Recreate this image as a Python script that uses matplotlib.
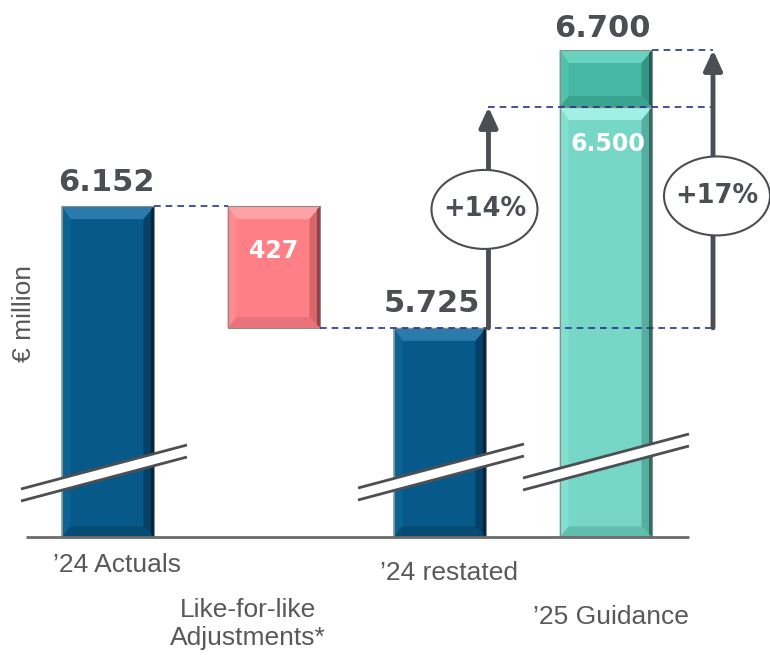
import matplotlib
matplotlib.use("Agg")
import matplotlib.pyplot as plt
from matplotlib.patches import Polygon, Rectangle, Ellipse

# ---------------- data ----------------
categories = ["\u201924 Actuals", "Like-for-like\nAdjustments*", "\u201924 restated", "\u201925 Guidance"]
actuals_2024 = 6.152
lfl_adjustment = 0.427
restated_2024 = 5.725
guidance_low = 6.500
guidance_high = 6.700
value_labels = ["6.152", "427", "5.725", "6.500", "6.700"]
growth_labels = ["+14%", "+17%"]

# ---------------- layout ----------------
W, H = 770, 655
PX_X = 166.0          # pixels per category
PX_Y = 285.0          # pixels per unit (bn)
X0_PX = 108.0
Y_OFF = 1959.5
axis_base = 4.99      # visual start of the broken axis

def dx(px):
    return px / PX_X

def dy(px):
    return px / PX_Y

fig = plt.figure(figsize=(W / 100, H / 100), dpi=100)
ax = fig.add_axes([0, 0, 1, 1])
ax.set_xlim(-X0_PX / PX_X, (W - X0_PX) / PX_X)
ax.set_ylim((Y_OFF - H) / PX_Y, Y_OFF / PX_Y)
ax.axis("off")

bar_w = 0.56

palette = {
    "blue": dict(main="#07598a", top="#2a7aab", left="#0b6394", right="#054066",
                 edge="#02233a", bottom="#064b74"),
    "salmon": dict(main="#ff7f86", top="#ffa2a7", left="#ff8a90", right="#d9656c",
                   edge="#8f4449", bottom="#e8737a"),
    "teal": dict(main="#76d7c7", top="#a2efe3", left="#83dfd0", right="#56ae9f",
                 edge="#2f6d63", bottom="#62bdae"),
    "teal_dark": dict(main="#45b8a3", top="#6ad2bf", left="#50c1ac", right="#339584",
                      edge="#1f5e52", bottom="#3ba491"),
}


def bevel_bar(xc, y0, y1, colors, z=2):
    x0, x1 = xc - bar_w / 2, xc + bar_w / 2
    ax.add_patch(Rectangle((x0, y0), x1 - x0, y1 - y0, facecolor=colors["main"],
                           edgecolor="none", zorder=z))
    bt = min(dy(13), (y1 - y0) / 2.5)
    bb = min(dy(11), (y1 - y0) / 2.5)
    bl, br = dx(9), dx(11)
    polys = [
        ([(x0, y1), (x1, y1), (x1 - br, y1 - bt), (x0 + bl, y1 - bt)], colors["top"]),
        ([(x0, y0), (x1, y0), (x1 - br, y0 + bb), (x0 + bl, y0 + bb)], colors["bottom"]),
        ([(x0, y0), (x0, y1), (x0 + bl, y1 - bt), (x0 + bl, y0 + bb)], colors["left"]),
        ([(x1, y0), (x1, y1), (x1 - br, y1 - bt), (x1 - br, y0 + bb)], colors["right"]),
    ]
    for pts, c in polys:
        ax.add_patch(Polygon(pts, closed=True, facecolor=c, edgecolor="none", zorder=z + 0.1))
    e = dx(3.5)
    ax.add_patch(Polygon([(x1 - e, y0 + dy(3)), (x1 - e, y1 - dy(3)), (x1, y1), (x1, y0)],
                         closed=True, facecolor=colors["edge"], edgecolor="none", zorder=z + 0.15))
    ax.add_patch(Rectangle((x0, y0), x1 - x0, y1 - y0, facecolor="none",
                           edgecolor="#8c8c8c", linewidth=0.8, zorder=z + 0.2))


xs = list(range(len(categories)))

# bars
bevel_bar(xs[0], axis_base, actuals_2024, palette["blue"])
bevel_bar(xs[1], actuals_2024 - lfl_adjustment, actuals_2024, palette["salmon"])
bevel_bar(xs[2], axis_base, restated_2024, palette["blue"])
bevel_bar(xs[3], axis_base, guidance_low, palette["teal"])
bevel_bar(xs[3], guidance_low, guidance_high, palette["teal_dark"])

# baseline
ax.plot([-0.494, 3.5], [axis_base, axis_base], color="#6b6b6b", lw=2, zorder=5,
        solid_capstyle="butt")

# axis break marks
def break_mark(xc, yc):
    half = dx(83)
    rise = dy(22)
    gap = dy(6)
    xl, xr = xc - half, xc + half
    band = [(xl, yc - rise + gap), (xr, yc + rise + gap), (xr, yc + rise - gap), (xl, yc - rise - gap)]
    ax.add_patch(Polygon(band, closed=True, facecolor="white", edgecolor="none", zorder=6))
    for s in (gap, -gap):
        ax.plot([xl, xr], [yc - rise + s, yc + rise + s], color="#4d4f53", lw=2, zorder=7,
                solid_capstyle="butt")

break_mark(xs[0] - dx(4), (Y_OFF - 473) / PX_Y)
break_mark(xs[2] + dx(1), (Y_OFF - 472) / PX_Y)
break_mark(xs[3], (Y_OFF - 462) / PX_Y)

# dashed connector lines
dash_kw = dict(color="#27338c", lw=1.2, linestyle=(0, (4, 3)), zorder=8)
arrow1_x = xs[2] + bar_w / 2 + dx(2)
arrow2_x = xs[3] + dx(107)
ax.plot([xs[0] + bar_w / 2, xs[1] - bar_w / 2], [actuals_2024] * 2, **dash_kw)
ax.plot([xs[1] + bar_w / 2, arrow2_x], [restated_2024] * 2, **dash_kw)
ax.plot([arrow1_x, arrow2_x], [guidance_low] * 2, **dash_kw)
ax.plot([xs[3] + bar_w / 2, arrow2_x], [guidance_high] * 2, **dash_kw)

# arrows
arrow_color = "#4b4e53"
for ax_x, top in ((arrow1_x, guidance_low), (arrow2_x, guidance_high)):
    ax.annotate("", xy=(ax_x, top), xytext=(ax_x, restated_2024),
                arrowprops=dict(arrowstyle="-|>,head_length=1.2,head_width=0.55",
                                mutation_scale=10, lw=3.5, color=arrow_color,
                                shrinkA=0, shrinkB=0),
                zorder=9)

# ellipses with growth labels
ell_specs = [
    (arrow1_x - dx(4), (restated_2024 + guidance_low) / 2 + dy(8), growth_labels[0]),
    (arrow2_x + dx(4), (restated_2024 + guidance_high) / 2 - dy(7), growth_labels[1]),
]
for ex, ey, lab in ell_specs:
    ax.add_patch(Ellipse((ex, ey), dx(106), dy(79), facecolor="white",
                         edgecolor="#4b4e53", lw=1.5, zorder=10))
    ax.text(ex, ey, lab, ha="center", va="center", fontsize=18.5, fontweight="bold",
            color="#4b4e53", family="DejaVu Sans", zorder=11)

# value labels
vcol = "#4b4e53"
vkw = dict(ha="center", va="baseline", fontsize=22, fontweight="bold", color=vcol,
           family="DejaVu Sans", zorder=11)
ax.text(xs[0] - dx(2), actuals_2024 + dy(15), value_labels[0], **vkw)
ax.text(xs[2] - dx(8), restated_2024 + dy(16), value_labels[2], **vkw)
ax.text(xs[3] - dx(4), guidance_high + dy(13), value_labels[4], **vkw)

wkw = dict(ha="center", va="center", fontsize=17, fontweight="bold", color="white",
           family="DejaVu Sans", zorder=11)
ax.text(xs[1], actuals_2024 - lfl_adjustment / 2 + dy(16), value_labels[1], **wkw)
ax.text(xs[3] + dx(2), guidance_low - dy(37), value_labels[3], **wkw)

# category labels
ckw = dict(ha="center", fontsize=19, color="#595959", family="Liberation Sans")
ax.text(xs[0] + dx(9), (Y_OFF - 572) / PX_Y, categories[0], va="baseline", **ckw)
ax.text(xs[1] - dx(26), (Y_OFF - 598) / PX_Y, categories[1], va="top", linespacing=1.2, **ckw)
ax.text(xs[2] + dx(9), (Y_OFF - 580) / PX_Y, categories[2], va="baseline", **ckw)
ax.text(xs[3] + dx(5), (Y_OFF - 624) / PX_Y, categories[3], va="baseline", **ckw)

# y label
ax.text(dx(24) - X0_PX / PX_X, (Y_OFF - 314) / PX_Y, "\u20ac million", rotation=90,
        ha="center", va="center", fontsize=19, color="#595959", family="Liberation Sans")

fig.savefig("out.png", dpi=100)
